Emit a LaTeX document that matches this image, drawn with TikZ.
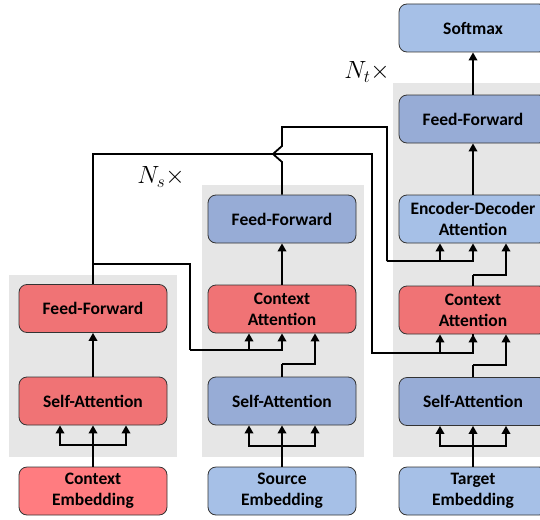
\documentclass[tikz,border=0pt]{standalone}
\usepackage{fontspec}
\setmainfont{Carlito}
\usetikzlibrary{arrows.meta}
\definecolor{redbox}{HTML}{F07375}
\definecolor{redemb}{HTML}{FF7C80}
\definecolor{bluebox}{HTML}{97ACD6}
\definecolor{bluelight}{HTML}{A6C0E7}
\definecolor{graybg}{HTML}{E6E6E6}
\tikzset{
  box/.style={draw=black!80, rounded corners=8pt, minimum width=148pt, minimum height=48pt,
    align=center, inner sep=0pt, line width=0.8pt,
    font=\fontsize{17.5}{21}\selectfont\bfseries},
  conn/.style={line width=1.8pt, black},
  arr/.style={conn, -{Triangle[length=8pt,width=8.5pt]}},
  bg/.style={fill=graybg, draw=none},
  lbl/.style={font=\fontsize{24}{28}\selectfont, inner sep=0pt}
}
\begin{document}
\begin{tikzpicture}[x=1pt,y=-1pt]
\useasboundingbox (0,0) rectangle (540,519);
\clip (0,0) rectangle (540,519);
% backgrounds
\fill[bg] (9,275) rectangle (177,457);
\fill[bg] (202,185) rectangle (364,457);
\fill[bg] (393,83) rectangle (560,457);
% left column (context encoder)
\node[box, fill=redbox] (cFF) at (93,308.5) {Feed-Forward};
\node[box, fill=redbox] (cSA) at (93,401) {Self-Attention};
\node[box, fill=redemb] (cEmb) at (93,491) {Context\\Embedding};
% middle column (source encoder)
\node[box, fill=bluebox] (sFF) at (282,219) {Feed-Forward};
\node[box, fill=redbox] (sCA) at (282,309) {Context\\Attention};
\node[box, fill=bluebox] (sSA) at (282,401) {Self-Attention};
\node[box, fill=bluelight] (sEmb) at (282,491) {Source\\Embedding};
% right column (decoder)
\node[box, fill=bluelight] (soft) at (473,28) {Softmax};
\node[box, fill=bluebox] (tFF) at (473,119) {Feed-Forward};
\node[box, fill=bluelight] (tED) at (473,219) {Encoder-Decoder\\Attention};
\node[box, fill=redbox] (tCA) at (473,310) {Context\\Attention};
\node[box, fill=bluebox] (tSA) at (473,401.5) {Self-Attention};
\node[box, fill=bluelight] (tEmb) at (473,491) {Target\\Embedding};
% labels
\node[lbl] (ns) at (161,177) {$N_s\times$};
\node[lbl] (nt) at (367,72) {$N_t\times$};
% coordinates
\coordinate (cbar) at (93,445);
\coordinate (sbar) at (282,446);
\coordinate (tbar) at (473,446);
\coordinate (sSAo) at (282,364);
\coordinate (tSAo) at (473,365);
\coordinate (tCAo) at (473,275);
\coordinate (cTop) at (93,154);
\coordinate (cTurn) at (372,154);
\coordinate (cIn) at (372,353);
\coordinate (cBr) at (93,264);
\coordinate (cBrT) at (190,264);
\coordinate (cBrIn) at (190,350);
\coordinate (sTop) at (282,127);
\coordinate (sTurn) at (387,127);
\coordinate (sIn) at (387,261);
\coordinate (j1) at (282,162);
\coordinate (j2) at (273,154);
\coordinate (j3) at (282,146);
% left column connectors
\draw[conn] (cEmb.north) -- (cbar);
\draw[arr] (cbar) -- (cSA.south);
\draw[arr] (cbar) -| ([xshift=-33pt]cSA.south);
\draw[arr] (cbar) -| ([xshift=33pt]cSA.south);
\draw[arr] (cSA.north) -- (cFF.south);
% middle column connectors
\draw[conn] (sEmb.north) -- (sbar);
\draw[arr] (sbar) -- (sSA.south);
\draw[arr] (sbar) -| ([xshift=-33pt]sSA.south);
\draw[arr] (sbar) -| ([xshift=33pt]sSA.south);
\draw[conn] (sSA.north) -- (sSAo);
\draw[arr] (sSAo) -| ([xshift=33pt]sCA.south);
\draw[arr] (sCA.north) -- (sFF.south);
% right column connectors
\draw[conn] (tEmb.north) -- (tbar);
\draw[arr] (tbar) -- (tSA.south);
\draw[arr] (tbar) -| ([xshift=-33pt]tSA.south);
\draw[arr] (tbar) -| ([xshift=33pt]tSA.south);
\draw[conn] (tSA.north) -- (tSAo);
\draw[arr] (tSAo) -| ([xshift=33pt]tCA.south);
\draw[conn] (tCA.north) -- (tCAo);
\draw[arr] (tCAo) -| ([xshift=33pt]tED.south);
\draw[arr] (tED.north) -- (tFF.south);
\draw[arr] (tFF.north) -- (soft.south);
% context encoder output
\draw[conn] (cFF.north) -- (cTop) -- (cTurn) -- (cIn) -| (tCA.south);
\draw[arr] (cIn) -| ([xshift=-33pt]tCA.south);
\draw[arr] (cIn) -| (tCA.south);
\draw[conn] (cBr) -- (cBrT) -- (cBrIn);
\draw[arr] (cBrIn) -| (sCA.south);
\draw[arr] (cBrIn) -| ([xshift=-33pt]sCA.south);
% source encoder output
\draw[conn] (sFF.north) -- (j1) -- (j2) -- (j3) -- (sTop) -- (sTurn) -- (sIn);
\draw[arr] (sIn) -| (tED.south);
\draw[arr] (sIn) -| ([xshift=-33pt]tED.south);
\end{tikzpicture}
\end{document}
